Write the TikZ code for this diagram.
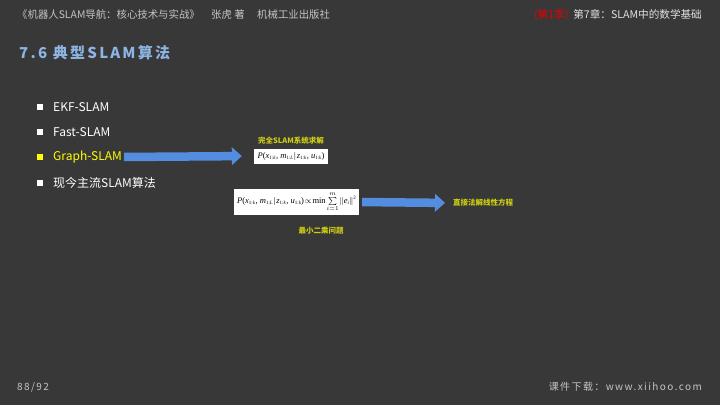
\documentclass[tikz,border=0pt]{standalone}
\usepackage{fontspec}
\usepackage{amsmath}
\setmainfont{Noto Sans CJK SC}
\newfontfamily\spaced[LetterSpace=14]{Noto Sans CJK SC}
\newfontfamily\titlefont[LetterSpace=15]{Noto Sans CJK SC}
\newfontfamily\tms{Liberation Serif}
\newcommand\sbx[1]{\raisebox{-0.35ex}{\fontsize{5}{6}\selectfont #1}}
\newcommand\pform{\textit{P}(\textit{x}\sbx{1:\textit{k}}\kern0.5pt, \textit{m}\sbx{1:\textit{L}}\kern1pt|\kern1pt\textit{z}\sbx{1:\textit{k}}\kern0.5pt, \textit{u}\sbx{1:\textit{k}})}
\usetikzlibrary{arrows.meta}
\definecolor{bg}{RGB}{56,56,56}
\definecolor{hdr}{RGB}{196,196,196}
\definecolor{hdrr}{RGB}{225,225,225}
\definecolor{titleblue}{RGB}{141,180,226}
\definecolor{yel}{RGB}{255,255,0}
\definecolor{lab}{RGB}{205,205,20}
\definecolor{arrowblue}{RGB}{84,141,224}
\definecolor{redh}{RGB}{230,0,0}
\tikzset{
  txt/.style={inner sep=0pt, font=\fontsize{12}{14}\selectfont, text=white, anchor=west},
  sq/.style={fill=white, minimum size=6pt, inner sep=0pt},
  formbox/.style={fill=white, inner sep=0pt, text=black, font=\tms\fontsize{8.5}{10}\selectfont},
  lbl/.style={inner sep=0pt, text=lab, font=\fontsize{7.5}{9}\selectfont\bfseries},
  bigarrow/.style={line width=8.5pt, draw=arrowblue, -{Triangle[length=10pt,width=17.5pt]}},
}
\begin{document}
\begin{tikzpicture}[x=1pt,y=-1pt]
\useasboundingbox (0,0) rectangle (720,405);
\fill[bg] (0,0) rectangle (720,405);
% header
\node[inner sep=0pt, anchor=west, text=hdr, font=\fontsize{10.4}{12}\selectfont] (h1) at (17,15) {《机器人SLAM导航：核心技术与实战》};
\node[inner sep=0pt, anchor=west, text=hdr, font=\fontsize{10.4}{12}\selectfont] (h2) at (211,15) {张虎 著};
\node[inner sep=0pt, anchor=west, text=hdr, font=\fontsize{10.4}{12}\selectfont] (h3) at (257,15) {机械工业出版社};
\node[inner sep=0pt, anchor=east, text=hdrr, font=\fontsize{10.6}{12}\selectfont] (h4) at (702,15) {{\color{redh}(第1季)}\hspace{5pt}第7章：SLAM中的数学基础};
% title
\node[inner sep=0pt, anchor=west, text=titleblue, font=\fontsize{15}{17}\titlefont\bfseries] (title) at (19,53) {7.6 典型SLAM算法};
% bullets
\node[sq] (s1) at (40,107) {};
\node[sq] (s2) at (40,132) {};
\node[sq, fill=yel] (s3) at (40,157) {};
\node[sq] (s4) at (40,183) {};
\node[txt] (t1) at (53,107) {EKF-SLAM};
\node[txt] (t2) at (53,132) {Fast-SLAM};
\node[txt, text=yel] (t3) at (53,157) {Graph-SLAM};
\node[txt] (t4) at (53,183) {现今主流SLAM算法};
% formula boxes
\node[formbox, minimum width=74pt, minimum height=15pt] (b1) at (291,156) {\pform};
\node[formbox, minimum width=125pt, minimum height=26pt] (b2) at (296.5,202) {\pform\kern1pt$\propto$\kern1pt min\kern1pt$\sum\limits_{i=1}^{m}$\kern1pt$\|$\textit{e}\sbx{\textit{i}}$\|$\raisebox{0.9ex}{\fontsize{5}{6}\selectfont 2}};
% labels
\node[lbl] (l1) at (291,141) {完全SLAM系统求解};
\node[lbl, anchor=west] (l3) at (453,203) {直接法解线性方程};
\node[lbl] (l4) at (321,231) {最小二乘问题};
% arrows
\draw[bigarrow, shorten <=2pt, shorten >=12pt] (t3.east) -- (b1.west);
\draw[bigarrow, shorten <=3pt, shorten >=8pt] (b2.east) -- (l3.west);
% footer
\node[inner sep=0pt, anchor=west, text=hdr, font=\fontsize{10}{12}\spaced] (f1) at (17,387) {88/92};
\node[inner sep=0pt, anchor=east, text=hdr, font=\fontsize{10}{12}\spaced] (f2) at (702,387) {课件下载：www.xiihoo.com};
\end{tikzpicture}
\end{document}
